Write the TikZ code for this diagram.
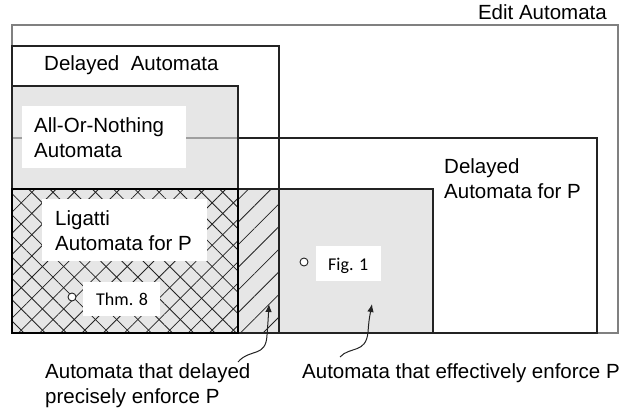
\documentclass[tikz,border=0pt]{standalone}
\usepackage{fontspec}
\setmainfont{Liberation Sans}
\newfontfamily\calib{Carlito}
\usetikzlibrary{patterns.meta,arrows.meta}
\definecolor{fillg}{RGB}{230,230,230}
\definecolor{ink}{RGB}{35,35,35}
\begin{document}
\begin{tikzpicture}[x=1pt,y=-1pt,
  box/.style={inner sep=0pt,outer sep=0pt,anchor=north west},
  outl/.style={draw=ink,line width=1.3pt},
  lbl/.style={font=\fontsize{20.5}{25}\selectfont,inner sep=0pt,align=left,text=black},
  small/.style={font=\calib\fontsize{18}{20}\selectfont,inner sep=0pt,text=black},
  whitebox/.style={fill=white,inner sep=0pt,outer sep=0pt,anchor=north west},
  dot/.style={circle,draw=ink,fill=white,line width=0.9pt,minimum size=8pt,inner sep=0pt},
  arr/.style={draw=ink,line width=1pt,-{Latex[length=8pt,width=6.5pt]}}]
\useasboundingbox (0,0) rectangle (626,415);
% fills
\node[box,fill=fillg,minimum width=226pt,minimum height=247pt] (aonf) at (12,86) {};
\node[box,fill=fillg,minimum width=195pt,minimum height=144pt] (efff) at (238,189) {};
\node[box,pattern={Lines[angle=45,distance=16pt,line width=0.8pt]},pattern color=ink,minimum width=41pt,minimum height=144pt] (hatch) at (238,189) {};
\node[box,pattern={Lines[angle=45,distance=15pt,line width=0.8pt]},pattern color=ink,minimum width=226pt,minimum height=144pt] (lig1) at (12,189) {};
\node[box,pattern={Lines[angle=-45,distance=15pt,line width=0.8pt]},pattern color=ink,minimum width=226pt,minimum height=144pt] (lig2) at (12,189) {};
% outlines
\node[box,draw=gray,line width=1.3pt,minimum width=606pt,minimum height=308pt] (edit) at (12,25) {};
\node[box,outl,minimum width=267pt,minimum height=287pt] (delayed) at (12,46) {};
\node[box,outl,minimum width=585pt,minimum height=195pt] (dap) at (12,138) {};
\draw[gray!75,line width=1.3pt] (dap.north west) -- (aonf.north east |- dap.north);
\node[box,outl,minimum width=226pt,minimum height=247pt] (aon) at (12,86) {};
\node[box,outl,minimum width=195pt,minimum height=144pt] (eff) at (238,189) {};
\node[box,draw=black,line width=2.8pt,minimum width=226pt,minimum height=144pt] (lig) at (12,189) {};
% labels
\node[lbl,anchor=base east] (editl) at (607,19) {Edit Automata};
\node[lbl,anchor=base west] (delayedl) at (44,70) {Delayed\ \ Automata};
\node[whitebox,minimum width=164pt,minimum height=62pt] (aonw) at (22,106) {};
\node[lbl,anchor=base west] (aonl) at (34,157) {All-Or-Nothing\\Automata};
\node[lbl,anchor=base west] (dapl) at (444,198) {Delayed\\Automata for P};
\node[whitebox,minimum width=165pt,minimum height=62pt] (ligw) at (42,199) {};
\node[lbl,anchor=base west] (ligl) at (55,250) {Ligatti\\Automata for P};
\node[whitebox,minimum width=77pt,minimum height=34pt] (thmw) at (83,282) {};
\node[small,anchor=base west] (thml) at (96,305) {Thm. 8};
\node[dot] (thmd) at (72,297) {};
\node[whitebox,minimum width=65pt,minimum height=35pt] (figw) at (316,246) {};
\node[small,anchor=base west] (figl) at (328,270) {Fig. 1};
\node[dot] (figd) at (304,262) {};
\node[lbl,anchor=base west] (dpl) at (45,403) {Automata that delayed\\precisely enforce P};
\node[lbl,anchor=base west] (effl) at (302,378) {Automata that effectively enforce P};
% arrows
\coordinate (a1s) at (238,362);
\coordinate (a1e) at (269,304);
\coordinate (a2s) at (340,357);
\coordinate (a2e) at (372,304);
\draw[arr] (a1s) .. controls (250,348) and (266,358) .. (267,335) .. controls (268,322) .. (a1e);
\draw[arr] (a2s) .. controls (350,346) and (366,354) .. (368,332) .. controls (369,320) .. (a2e);
\end{tikzpicture}
\end{document}
